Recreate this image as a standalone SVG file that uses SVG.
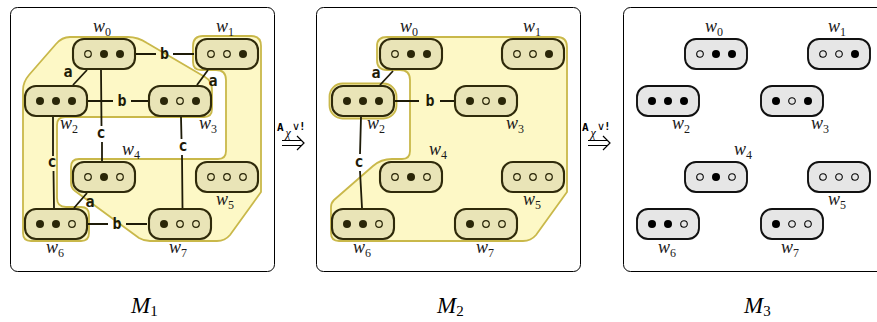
<svg xmlns="http://www.w3.org/2000/svg" width="877" height="322" viewBox="0 0 877 322">
<style>
.frame{fill:#fff;stroke:#000;stroke-width:1}
.region{fill:#fdf8c6;stroke:#c9b84a;stroke-width:1.8;stroke-linejoin:round}
.nb{fill:#e9e4b7;stroke:#2f2a0a;stroke-width:2.1}
.nb3{fill:#e6e6e6;stroke:#111;stroke-width:1.9}
.df{fill:#2a2608}
.do{fill:#e9e4b7;stroke:#2a2608;stroke-width:1.2}
.df3{fill:#000}
.do3{fill:#e6e6e6;stroke:#000;stroke-width:1.1}
.wl{font-family:"Liberation Serif",serif;font-style:italic;font-size:18px;fill:#1a1a1a}
.sub{font-style:normal;font-size:12px}
.e{stroke:#1e1b08;stroke-width:1.8;fill:none}
.el{font-family:"DejaVu Sans Mono",monospace;font-weight:bold;font-size:15px;fill:#1e1b08;text-anchor:middle}
.ml{font-family:"Liberation Serif",serif;font-style:italic;font-size:23px;fill:#000}
.ms{font-style:normal;font-size:15px}
.arr{stroke:#000;stroke-width:1.2;fill:none}
.at{font-family:"DejaVu Sans Mono",monospace;font-weight:bold;font-size:11px}
.ax{font-family:"Liberation Serif",serif;font-style:italic;font-size:12px}
.ay{font-family:"DejaVu Sans",sans-serif;font-size:11px}
</style>
<defs>
<rect id="box" x="-31" y="-15" width="62" height="30" rx="11"/>
</defs>

<!-- panel frames -->
<rect class="frame" x="10.5" y="7.5" width="264" height="264" rx="7"/>
<rect class="frame" x="316.5" y="7.5" width="264" height="264" rx="7"/>
<rect class="frame" x="623.5" y="7.5" width="264" height="264" rx="7"/>

<!-- M1 regions -->
<g id="m1-regions">
<path class="region" d="M23,90 L23,233 Q23,241 31,241 L81,241 Q89,241 89,233 L89,215 Q89,207 81,207 L66,207 Q57,207 57,198 L57,125 Q57,117 65,117 L204,117 Q212,117 212,109 L212,90 Q212,81 205,77 L147,43 Q138,37 128,37 L70,37 Q62,37 56,44 L29,75 Q23,82 23,90 Z"/>
<path class="region" d="M193,46 Q193,36 203,36 L251,36 Q261,36 261,46 L261,192 L230,235 Q225,241 217,241 L150,241 Q144,241 139,238 L75,191 Q71,188 71,183 L71,167 Q71,159 79,159 L218,159 Q226,159 226,151 L226,80 Q226,70 216,70 L201,70 Q193,70 193,62 Z"/>
</g>

<!-- M2 regions -->
<g id="m2-regions">
<path class="region" d="M377,46 Q377,37 387,37 L557,37 Q567,37 567,47 L567,192 L536,235 Q531,241 523,241 L339,241 Q331,241 331,233 L331,207 Q331,203 334,200 L373,166 Q381,159 392,159 L402,159 Q410,159 410,151 L410,80 Q410,70 400,70 L387,70 Q377,70 377,60 Z"/>
<rect class="region" x="329.5" y="83.5" width="67" height="35" rx="13"/>
</g>

<!-- connectors -->
<g id="connectors">
<!-- M1 -->
<path class="e" d="M136,54 H156 M173,54 H194"/>
<text class="el" x="164.5" y="59">b</text>
<path class="e" d="M87,70 L73,85"/>
<text class="el" x="68" y="77">a</text>
<path class="e" d="M88,101 H113 M131,101 H148"/>
<text class="el" x="122" y="106">b</text>
<path class="e" d="M208,70 L197,85"/>
<text class="el" x="213" y="86">a</text>
<path class="e" d="M101,70 L101.5,126 M102,142 L102,161"/>
<text class="el" x="101" y="138">c</text>
<path class="e" d="M181,117 L181.5,139 M182,155 L182.5,208"/>
<text class="el" x="183" y="151">c</text>
<path class="e" d="M53,117 L53,156 M53.5,171 L54,208"/>
<text class="el" x="52" y="167">c</text>
<path class="e" d="M87,193 L74,208"/>
<text class="el" x="90" y="207">a</text>
<path class="e" d="M88,224 H108 M126,224 H147"/>
<text class="el" x="117" y="229">b</text>
<!-- M2 -->
<path class="e" d="M393,71 L380,85"/>
<text class="el" x="376" y="78">a</text>
<path class="e" d="M395,101 H419 M440,101 H454"/>
<text class="el" x="430" y="106">b</text>
<path class="e" d="M361,117 L360,154 M360,171 L362,208"/>
<text class="el" x="359" y="167">c</text>
</g>

<!-- M1 nodes -->
<g id="m1-w0" transform="translate(104,54)"><use href="#box" class="nb"/><circle class="do" cx="-16" r="3.3"/><circle class="df" cx="0" r="4"/><circle class="df" cx="16" r="4"/></g>
<g id="m1-w1" transform="translate(227,54)"><use href="#box" class="nb"/><circle class="do" cx="-16" r="3.3"/><circle class="do" cx="0" r="3.3"/><circle class="df" cx="16" r="4"/></g>
<g id="m1-w2" transform="translate(56,101)"><use href="#box" class="nb"/><circle class="df" cx="-16" r="4"/><circle class="df" cx="0" r="4"/><circle class="df" cx="16" r="4"/></g>
<g id="m1-w3" transform="translate(180,101)"><use href="#box" class="nb"/><circle class="df" cx="-16" r="4"/><circle class="do" cx="0" r="3.3"/><circle class="df" cx="16" r="4"/></g>
<g id="m1-w4" transform="translate(104,177)"><use href="#box" class="nb"/><circle class="do" cx="-16" r="3.3"/><circle class="df" cx="0" r="4"/><circle class="do" cx="16" r="3.3"/></g>
<g id="m1-w5" transform="translate(227,177)"><use href="#box" class="nb"/><circle class="do" cx="-16" r="3.3"/><circle class="do" cx="0" r="3.3"/><circle class="do" cx="16" r="3.3"/></g>
<g id="m1-w6" transform="translate(56,224)"><use href="#box" class="nb"/><circle class="df" cx="-16" r="4"/><circle class="df" cx="0" r="4"/><circle class="do" cx="16" r="3.3"/></g>
<g id="m1-w7" transform="translate(180,224)"><use href="#box" class="nb"/><circle class="df" cx="-16" r="4"/><circle class="do" cx="0" r="3.3"/><circle class="do" cx="16" r="3.3"/></g>

<!-- M2 nodes -->
<g id="m2-w0" transform="translate(411,54)"><use href="#box" class="nb"/><circle class="do" cx="-16" r="3.3"/><circle class="df" cx="0" r="4"/><circle class="df" cx="16" r="4"/></g>
<g id="m2-w1" transform="translate(533,54)"><use href="#box" class="nb"/><circle class="do" cx="-16" r="3.3"/><circle class="do" cx="0" r="3.3"/><circle class="df" cx="16" r="4"/></g>
<g id="m2-w2" transform="translate(363,101)"><use href="#box" class="nb"/><circle class="df" cx="-16" r="4"/><circle class="df" cx="0" r="4"/><circle class="df" cx="16" r="4"/></g>
<g id="m2-w3" transform="translate(486,101)"><use href="#box" class="nb"/><circle class="df" cx="-16" r="4"/><circle class="do" cx="0" r="3.3"/><circle class="df" cx="16" r="4"/></g>
<g id="m2-w4" transform="translate(411,177)"><use href="#box" class="nb"/><circle class="do" cx="-16" r="3.3"/><circle class="df" cx="0" r="4"/><circle class="do" cx="16" r="3.3"/></g>
<g id="m2-w5" transform="translate(533,177)"><use href="#box" class="nb"/><circle class="do" cx="-16" r="3.3"/><circle class="do" cx="0" r="3.3"/><circle class="do" cx="16" r="3.3"/></g>
<g id="m2-w6" transform="translate(363,224)"><use href="#box" class="nb"/><circle class="df" cx="-16" r="4"/><circle class="df" cx="0" r="4"/><circle class="do" cx="16" r="3.3"/></g>
<g id="m2-w7" transform="translate(486,224)"><use href="#box" class="nb"/><circle class="df" cx="-16" r="4"/><circle class="do" cx="0" r="3.3"/><circle class="do" cx="16" r="3.3"/></g>

<!-- M3 nodes -->
<g id="m3-w0" transform="translate(716,54)"><use href="#box" class="nb3"/><circle class="do3" cx="-16" r="3.3"/><circle class="df3" cx="0" r="4"/><circle class="df3" cx="16" r="4"/></g>
<g id="m3-w1" transform="translate(839,54)"><use href="#box" class="nb3"/><circle class="do3" cx="-16" r="3.3"/><circle class="do3" cx="0" r="3.3"/><circle class="df3" cx="16" r="4"/></g>
<g id="m3-w2" transform="translate(668,101)"><use href="#box" class="nb3"/><circle class="df3" cx="-16" r="4"/><circle class="df3" cx="0" r="4"/><circle class="df3" cx="16" r="4"/></g>
<g id="m3-w3" transform="translate(792,101)"><use href="#box" class="nb3"/><circle class="df3" cx="-16" r="4"/><circle class="do3" cx="0" r="3.3"/><circle class="df3" cx="16" r="4"/></g>
<g id="m3-w4" transform="translate(716,177)"><use href="#box" class="nb3"/><circle class="do3" cx="-16" r="3.3"/><circle class="df3" cx="0" r="4"/><circle class="do3" cx="16" r="3.3"/></g>
<g id="m3-w5" transform="translate(839,177)"><use href="#box" class="nb3"/><circle class="do3" cx="-16" r="3.3"/><circle class="do3" cx="0" r="3.3"/><circle class="do3" cx="16" r="3.3"/></g>
<g id="m3-w6" transform="translate(668,224)"><use href="#box" class="nb3"/><circle class="df3" cx="-16" r="4"/><circle class="df3" cx="0" r="4"/><circle class="do3" cx="16" r="3.3"/></g>
<g id="m3-w7" transform="translate(792,224)"><use href="#box" class="nb3"/><circle class="df3" cx="-16" r="4"/><circle class="do3" cx="0" r="3.3"/><circle class="do3" cx="16" r="3.3"/></g>

<!-- world labels -->
<g id="labels-m1">
<text class="wl" x="93" y="32">w<tspan class="sub" dy="4">0</tspan></text>
<text class="wl" x="216" y="32">w<tspan class="sub" dy="4">1</tspan></text>
<text class="wl" x="60" y="129">w<tspan class="sub" dy="4">2</tspan></text>
<text class="wl" x="199" y="129">w<tspan class="sub" dy="4">3</tspan></text>
<text class="wl" x="122" y="155">w<tspan class="sub" dy="4">4</tspan></text>
<text class="wl" x="216" y="205">w<tspan class="sub" dy="4">5</tspan></text>
<text class="wl" x="46" y="253">w<tspan class="sub" dy="4">6</tspan></text>
<text class="wl" x="169" y="253">w<tspan class="sub" dy="4">7</tspan></text>
</g>
<g id="labels-m2">
<text class="wl" x="400" y="32">w<tspan class="sub" dy="4">0</tspan></text>
<text class="wl" x="523" y="32">w<tspan class="sub" dy="4">1</tspan></text>
<text class="wl" x="367" y="129">w<tspan class="sub" dy="4">2</tspan></text>
<text class="wl" x="506" y="129">w<tspan class="sub" dy="4">3</tspan></text>
<text class="wl" x="429" y="155">w<tspan class="sub" dy="4">4</tspan></text>
<text class="wl" x="523" y="205">w<tspan class="sub" dy="4">5</tspan></text>
<text class="wl" x="353" y="253">w<tspan class="sub" dy="4">6</tspan></text>
<text class="wl" x="476" y="253">w<tspan class="sub" dy="4">7</tspan></text>
</g>
<g id="labels-m3">
<text class="wl" x="705" y="32">w<tspan class="sub" dy="4">0</tspan></text>
<text class="wl" x="828" y="32">w<tspan class="sub" dy="4">1</tspan></text>
<text class="wl" x="672" y="129">w<tspan class="sub" dy="4">2</tspan></text>
<text class="wl" x="811" y="129">w<tspan class="sub" dy="4">3</tspan></text>
<text class="wl" x="734" y="155">w<tspan class="sub" dy="4">4</tspan></text>
<text class="wl" x="828" y="205">w<tspan class="sub" dy="4">5</tspan></text>
<text class="wl" x="658" y="253">w<tspan class="sub" dy="4">6</tspan></text>
<text class="wl" x="781" y="253">w<tspan class="sub" dy="4">7</tspan></text>
</g>

<!-- transition arrows -->
<g id="arrow1">
<text class="at" x="277" y="131">A</text>
<text class="ax" x="285.5" y="137">χ</text>
<text class="ay" x="292" y="130">∨</text>
<text class="at" x="299" y="130">!</text>
<path class="arr" d="M282,140.5 H302 M282,145.5 H302 M297,136 L304,143 L297,150"/>
</g>
<g id="arrow2">
<text class="at" x="582" y="131">A</text>
<text class="ax" x="590.5" y="137">χ</text>
<text class="ay" x="597" y="130">∨</text>
<text class="at" x="604" y="130">!</text>
<path class="arr" d="M588,140.5 H608 M588,145.5 H608 M603,136 L610,143 L603,150"/>
</g>

<!-- model names -->
<text class="ml" x="131" y="313">M<tspan class="ms" dy="3">1</tspan></text>
<text class="ml" x="437" y="313">M<tspan class="ms" dy="3">2</tspan></text>
<text class="ml" x="744" y="313">M<tspan class="ms" dy="3">3</tspan></text>
</svg>
